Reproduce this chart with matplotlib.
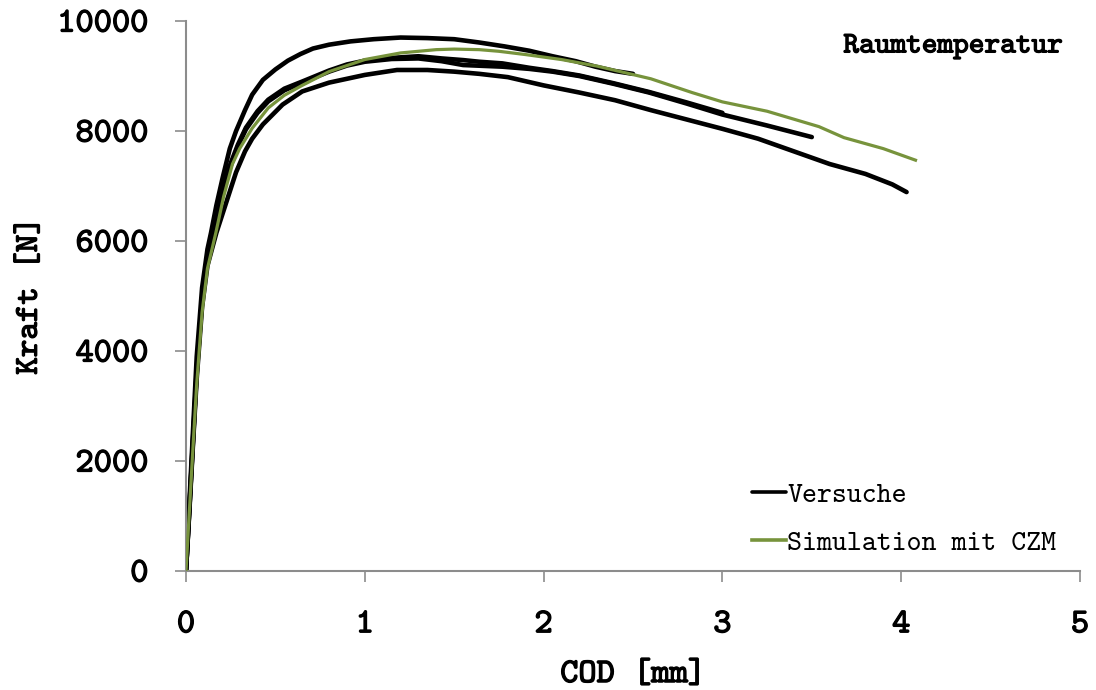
import matplotlib
matplotlib.use("Agg")
import matplotlib.pyplot as plt
import matplotlib.patheffects as pe

# Versuche: COD [mm] / Kraft [N]
cod_a = [0, 0.02, 0.04, 0.06, 0.09, 0.12, 0.14, 0.17, 0.205, 0.245, 0.28, 0.33, 0.37, 0.43, 0.50,
         0.57, 0.64, 0.71, 0.80, 0.92, 1.05, 1.20, 1.35, 1.50, 1.64, 1.78, 1.92, 2.05, 2.18, 2.29,
         2.40, 2.50]
kraft_a = [0, 1300, 2600, 3900, 5150, 5850, 6150, 6650, 7150, 7680, 8000, 8380, 8660, 8930, 9120,
           9280, 9400, 9500, 9570, 9630, 9670, 9700, 9690, 9670, 9610, 9540, 9460, 9360, 9270, 9170,
           9090, 9040]

cod_b = [0, 0.02, 0.04, 0.06, 0.09, 0.12, 0.157, 0.20, 0.24, 0.29, 0.335, 0.40, 0.46, 0.55, 0.65,
         0.80, 0.90, 1.00, 1.15, 1.30, 1.43, 1.55, 1.64, 1.77, 1.92, 2.05, 2.20, 2.39, 2.59, 2.80,
         3.00]
kraft_b = [0, 1200, 2450, 3650, 4950, 5700, 6150, 6850, 7330, 7750, 8060, 8360, 8570, 8770, 8900,
           9100, 9210, 9280, 9330, 9360, 9320, 9290, 9260, 9230, 9150, 9090, 9010, 8870, 8710, 8520,
           8330]

cod_c = [0, 0.02, 0.04, 0.06, 0.09, 0.12, 0.157, 0.20, 0.24, 0.29, 0.335, 0.40, 0.46, 0.55, 0.65,
         0.80, 0.90, 1.00, 1.15, 1.30, 1.43, 1.55, 1.77, 1.92, 2.05, 2.20, 2.39, 2.59, 2.80, 3.00,
         3.25, 3.50]
kraft_c = [0, 1200, 2400, 3600, 4900, 5650, 6120, 6800, 7280, 7720, 8030, 8330, 8540, 8740, 8880,
           9080, 9190, 9260, 9310, 9320, 9270, 9200, 9170, 9130, 9080, 9000, 8860, 8700, 8500, 8300,
           8100, 7890]

cod_e = [0, 0.02, 0.04, 0.06, 0.09, 0.12, 0.17, 0.21, 0.28, 0.33, 0.37, 0.43, 0.54, 0.65, 0.80,
         1.00, 1.18, 1.35, 1.50, 1.64, 1.80, 2.00, 2.20, 2.40, 2.60, 2.80, 3.00, 3.20, 3.40, 3.60,
         3.80, 3.95, 4.03]
kraft_e = [0, 1150, 2350, 3500, 4800, 5550, 6150, 6550, 7250, 7630, 7860, 8120, 8480, 8720, 8880,
           9020, 9110, 9110, 9080, 9040, 8980, 8830, 8700, 8560, 8380, 8210, 8040, 7860, 7630, 7400,
           7220, 7030, 6890]

# Simulation mit CZM
cod_sim = [0, 0.02, 0.04, 0.06, 0.09, 0.12, 0.167, 0.21, 0.26, 0.30, 0.37, 0.46, 0.55, 0.65, 0.80,
           1.00, 1.20, 1.40, 1.50, 1.64, 1.75, 1.90, 2.10, 2.30, 2.60, 2.83, 3.00, 3.25, 3.54, 3.68,
           3.90, 4.08]
kraft_sim = [0, 1150, 2300, 3400, 4700, 5500, 6150, 6800, 7400, 7680, 8050, 8420, 8650, 8830, 9080,
             9300, 9420, 9480, 9490, 9480, 9450, 9390, 9300, 9180, 8950, 8700, 8530, 8360, 8080, 7880,
             7680, 7470]

versuche = [(cod_a, kraft_a), (cod_b, kraft_b), (cod_c, kraft_c), (cod_e, kraft_e)]

x_ticks = [0, 1, 2, 3, 4, 5]
y_ticks = [0, 2000, 4000, 6000, 8000, 10000]

FONT = "cmtt10"
GREEN = "#77933C"
GREY = "#8c8c8c"
bold = [pe.withStroke(linewidth=0.9, foreground="black")]

fig = plt.figure(figsize=(10.96, 6.9), dpi=100)
ax = fig.add_axes([0.1697, 0.1725, 0.8157, 0.797])

for i, (xv, yv) in enumerate(versuche):
    ax.plot(xv, yv, color="black", lw=3.3, solid_capstyle="round",
            label="Versuche" if i == 0 else None, zorder=2)
ax.plot(cod_sim, kraft_sim, color=GREEN, lw=2.3, label="Simulation mit CZM", zorder=3)

ax.set_xlim(0, 5)
ax.set_ylim(0, 10000)
ax.set_xticks(x_ticks)
ax.set_yticks(y_ticks)

for side in ("top", "right"):
    ax.spines[side].set_visible(False)
for side in ("left", "bottom"):
    ax.spines[side].set_color(GREY)
    ax.spines[side].set_linewidth(1.5)

ax.tick_params(axis="both", direction="out", color=GREY, width=1.2, length=8)
ax.tick_params(axis="y", pad=19)
ax.tick_params(axis="x", pad=21)
for lab in ax.get_xticklabels() + ax.get_yticklabels():
    lab.set_fontfamily(FONT)
    lab.set_fontsize(25)
    lab.set_path_effects(bold)

ax.set_xlabel("COD [mm]", fontfamily=FONT, fontsize=25, labelpad=15, path_effects=bold)
ax.set_ylabel("Kraft [N]", fontfamily=FONT, fontsize=24, labelpad=9, path_effects=bold)

ax.text(0.981, 0.953, "Raumtemperatur", transform=ax.transAxes, ha="right", va="center",
        fontfamily=FONT, fontsize=21.5, path_effects=bold)

leg = ax.legend(loc="lower left", bbox_to_anchor=(0.633, 0.025), frameon=False,
                prop={"family": FONT, "size": 20.5}, handlelength=1.2, handletextpad=0.05,
                borderpad=0, borderaxespad=0, labelspacing=0.75)
for h in leg.get_lines():
    h.set_linewidth(2.6)

fig.savefig("out.png", dpi=100, facecolor="white")
